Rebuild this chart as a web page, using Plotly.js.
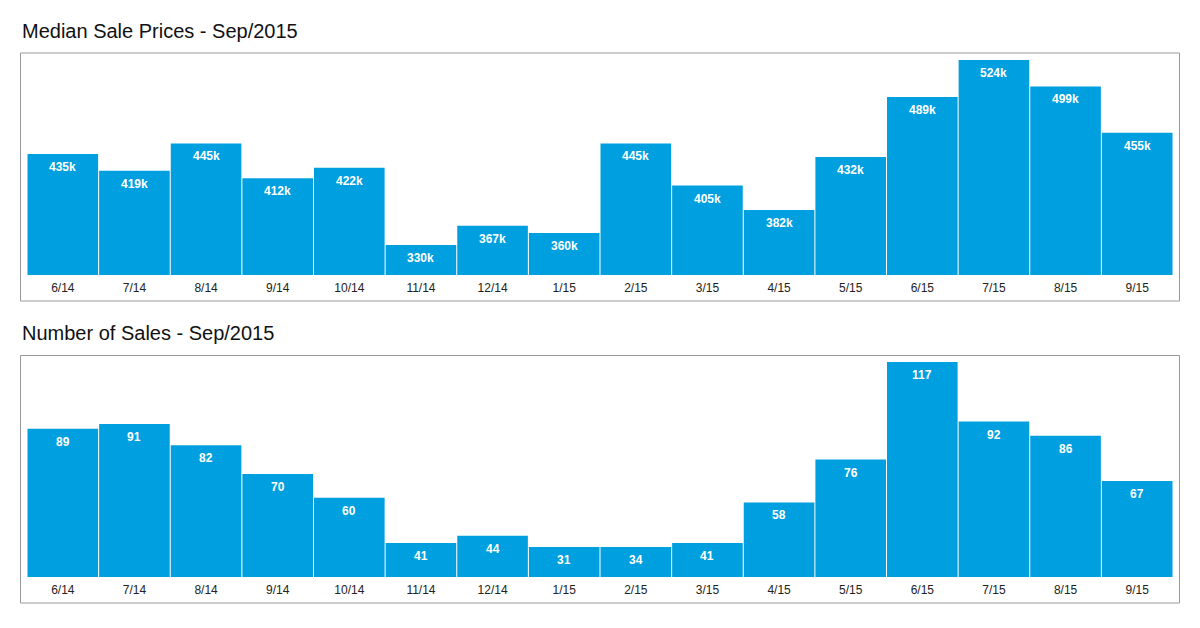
<!DOCTYPE html>
<html>
<head>
<meta charset="utf-8">
<script src="https://cdn.plot.ly/plotly-3.0.1.min.js"></script>
<style>
  html, body { margin: 0; padding: 0; background: #fff; }
  #chart { width: 1200px; height: 628px; }
</style>
</head>
<body>
<div id="chart"></div>
<script>
// data
const months = ["6/14", "7/14", "8/14", "9/14", "10/14", "11/14", "12/14", "1/15",
                "2/15", "3/15", "4/15", "5/15", "6/15", "7/15", "8/15", "9/15"];
const prices = [435, 419, 445, 412, 422, 330, 367, 360, 445, 405, 382, 432, 489, 524, 499, 455]; // in k
const sales = [89, 91, 82, 70, 60, 41, 44, 31, 34, 41, 58, 76, 117, 92, 86, 67];

const BLUE = "#00a0e0";
const FONT = "Liberation Sans, Arial, Helvetica, sans-serif";

// page geometry (px)
const W = 1200, H = 628;
const M = { l: 27, r: 27, t: 60, b: 51 };
const PLOT_H = H - M.t - M.b;   // 517
const BAR_H = 215;              // height of each bar area
const MIN_BAR = 30;             // bars never drawn shorter than this, so the label fits

const py = p => (H - M.b - p) / PLOT_H;         // pixel y -> paper y
const px = p => (p - M.l) / (W - M.l - M.r);    // pixel x -> paper x

// axis floor sits 5% of the spread below the smallest value
const axisRange = vals => {
    const lo = Math.min(...vals), hi = Math.max(...vals);
    return [lo - (hi - lo) * 0.05, hi];
};

const shown = (vals, range) => {
    const floor = range[0] + MIN_BAR * (range[1] - range[0]) / BAR_H;
    return vals.map(v => Math.max(v, floor));
};

const priceRange = axisRange(prices);
const salesRange = axisRange(sales);
const priceBars = shown(prices, priceRange);
const salesBars = shown(sales, salesRange);

const data = [
    {
        type: "bar", x: months, y: priceBars,
        marker: { color: BLUE }, xaxis: "x", yaxis: "y",
        hoverinfo: "skip", cliponaxis: true
    },
    {
        type: "bar", x: months, y: salesBars,
        marker: { color: BLUE }, xaxis: "x2", yaxis: "y2",
        hoverinfo: "skip", cliponaxis: true
    }
];

const labelAnn = (xs, ys, texts, xref, yref) => xs.map((m, i) => ({
    x: m, y: ys[i], xref: xref, yref: yref,
    text: texts[i], showarrow: false,
    yanchor: "middle", yshift: -13,
    font: { family: FONT, size: 12, color: "#fff", weight: "bold" }
}));

const titleAnn = (text, yPix) => ({
    text: text, xref: "paper", yref: "paper",
    x: px(20), y: py(yPix), xanchor: "left", yanchor: "middle",
    showarrow: false,
    font: { family: FONT, size: 20, color: "#111" }
});

const frame = (top, bottom) => ({
    type: "rect", xref: "paper", yref: "paper",
    x0: px(20.5), x1: px(1179.5), y0: py(bottom), y1: py(top),
    line: { color: "#999", width: 1 }, fillcolor: "rgba(0,0,0,0)", layer: "below"
});

const xAxis = {
    type: "category", showgrid: false, zeroline: false, showline: false,
    ticks: "", fixedrange: true, ticklabelstandoff: 4,
    tickfont: { family: FONT, size: 12, color: "#222" }
};
const yAxis = { visible: false, fixedrange: true, showgrid: false, zeroline: false };

const layout = {
    width: W, height: H,
    margin: M,
    paper_bgcolor: "#fff",
    plot_bgcolor: "#fff",
    showlegend: false,
    bargap: 0.014,
    xaxis: Object.assign({}, xAxis, { anchor: "y" }),
    yaxis: Object.assign({}, yAxis, { domain: [py(275), 1], range: priceRange }),
    xaxis2: Object.assign({}, xAxis, { anchor: "y2" }),
    yaxis2: Object.assign({}, yAxis, { domain: [0, py(577 - BAR_H)], range: salesRange }),
    shapes: [frame(53, 301), frame(355.5, 603)],
    annotations: [
        titleAnn("Median Sale Prices - Sep/2015", 31.5),
        titleAnn("Number of Sales - Sep/2015", 333)
    ]
        .concat(labelAnn(months, priceBars, prices.map(v => v + "k"), "x", "y"))
        .concat(labelAnn(months, salesBars, sales.map(v => String(v)), "x2", "y2"))
};

Plotly.newPlot("chart", data, layout, { displayModeBar: false, staticPlot: true });
</script>
</body>
</html>
